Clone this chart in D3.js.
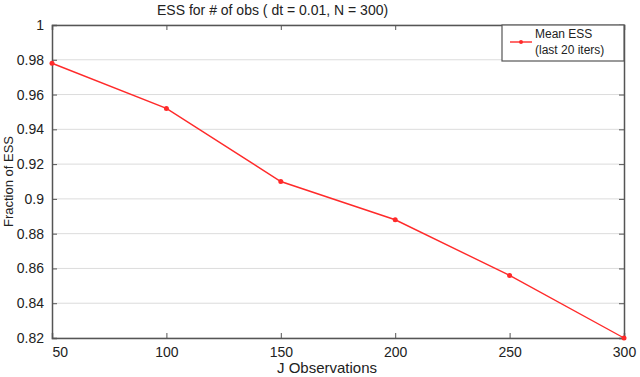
<!DOCTYPE html>
<html>
<head>
<meta charset="utf-8">
<script src="https://cdn.jsdelivr.net/npm/d3@7"></script>
<style>
  body { margin: 0; background: #fff; }
  svg { display: block; font-family: "Liberation Sans", Arial, sans-serif; }
</style>
</head>
<body>
<svg id="drawing_region"></svg>
<script>
// data
const observations = [50, 100, 150, 200, 250, 300];
const meanESS = [0.978, 0.952, 0.910, 0.888, 0.856, 0.820];
const xTicks = [50, 100, 150, 200, 250, 300];
const yTicks = [0.82, 0.84, 0.86, 0.88, 0.9, 0.92, 0.94, 0.96, 0.98, 1];
const legendLines = ["Mean ESS", "(last 20 iters)"];

const width = 640, height = 377;
const margin = { top: 25, right: 16, bottom: 39, left: 52 };
const iw = width - margin.left - margin.right;
const ih = height - margin.top - margin.bottom;

const svg = d3.select('#drawing_region')
    .attr('width', width)
    .attr('height', height);

const g = svg.append('g')
    .attr('transform', `translate(${margin.left},${margin.top})`);

const xscale = d3.scaleLinear().domain([50, 300]).range([0, iw]);
const yscale = d3.scaleLinear().domain([0.82, 1]).range([ih, 0]);

// horizontal grid
g.append('g')
    .selectAll('line')
    .data(yTicks)
    .join('line')
    .attr('x1', 0).attr('x2', iw)
    .attr('y1', d => yscale(d)).attr('y2', d => yscale(d))
    .attr('stroke', '#dcdcdc')
    .attr('stroke-width', 1);

// axes (ticks inside, matlab style)
const xAxis = g.append('g')
    .attr('transform', `translate(0,${ih})`)
    .call(d3.axisBottom(xscale).tickValues(xTicks).tickSize(-5).tickPadding(9).tickFormat(d3.format('d')));
xAxis.selectAll('text')
    .attr('dy', '0.71em')
    .filter(d => d === 50).attr('text-anchor', 'start');

const yAxis = g.append('g')
    .call(d3.axisLeft(yscale).tickValues(yTicks).tickSize(-5).tickPadding(8).tickFormat(d => d3.format('')(d)));

g.append('g')
    .attr('transform', `translate(${iw},0)`)
    .call(d3.axisRight(yscale).tickValues(yTicks).tickSize(-5).tickFormat(''));
g.append('g')
    .call(d3.axisTop(xscale).tickValues(xTicks).tickSize(-5).tickFormat(''));

g.selectAll('.domain').attr('stroke', '#555').attr('stroke-width', 1.5);
g.selectAll('.tick line').attr('stroke', '#555');
g.selectAll('.tick text').attr('fill', '#222').style('font-size', '14px');

// line + markers
const line = d3.line()
    .x((d, i) => xscale(observations[i]))
    .y(d => yscale(d));

g.append('path')
    .datum(meanESS)
    .attr('d', line)
    .attr('fill', 'none')
    .attr('stroke', '#ff2a2a')
    .attr('stroke-width', 1.4);

g.selectAll('.pt')
    .data(meanESS)
    .join('circle')
    .attr('class', 'pt')
    .attr('cx', (d, i) => xscale(observations[i]))
    .attr('cy', d => yscale(d))
    .attr('r', 2.5)
    .attr('fill', '#ff2a2a');

// legend
const legend = g.append('g')
    .attr('transform', `translate(${iw - 122},0)`);
legend.append('rect')
    .attr('width', 122).attr('height', 36)
    .attr('fill', '#fff')
    .attr('stroke', '#555')
    .attr('stroke-width', 1.2);
legend.append('line')
    .attr('x1', 8).attr('x2', 30).attr('y1', 17).attr('y2', 17)
    .attr('stroke', '#ff2a2a').attr('stroke-width', 1.4);
legend.append('circle')
    .attr('cx', 19).attr('cy', 17).attr('r', 2)
    .attr('fill', '#ff2a2a');
legend.selectAll('.lt')
    .data(legendLines)
    .join('text')
    .attr('class', 'lt')
    .attr('x', 33)
    .attr('y', (d, i) => 13 + i * 16)
    .style('font-size', '12px')
    .attr('fill', '#222')
    .text(d => d);

// titles
svg.append('text')
    .attr('x', 157).attr('y', 15)
    .style('font-size', '14px')
    .attr('fill', '#222')
    .text('ESS for # of obs ( dt = 0.01, N = 300)');

svg.append('text')
    .attr('x', 327).attr('y', 373)
    .attr('text-anchor', 'middle')
    .style('font-size', '15px')
    .attr('fill', '#222')
    .text('J  Observations');

svg.append('text')
    .attr('transform', `translate(13,${margin.top + ih / 2}) rotate(-90)`)
    .attr('text-anchor', 'middle')
    .style('font-size', '13px')
    .attr('fill', '#222')
    .text('Fraction of ESS');
</script>
</body>
</html>
